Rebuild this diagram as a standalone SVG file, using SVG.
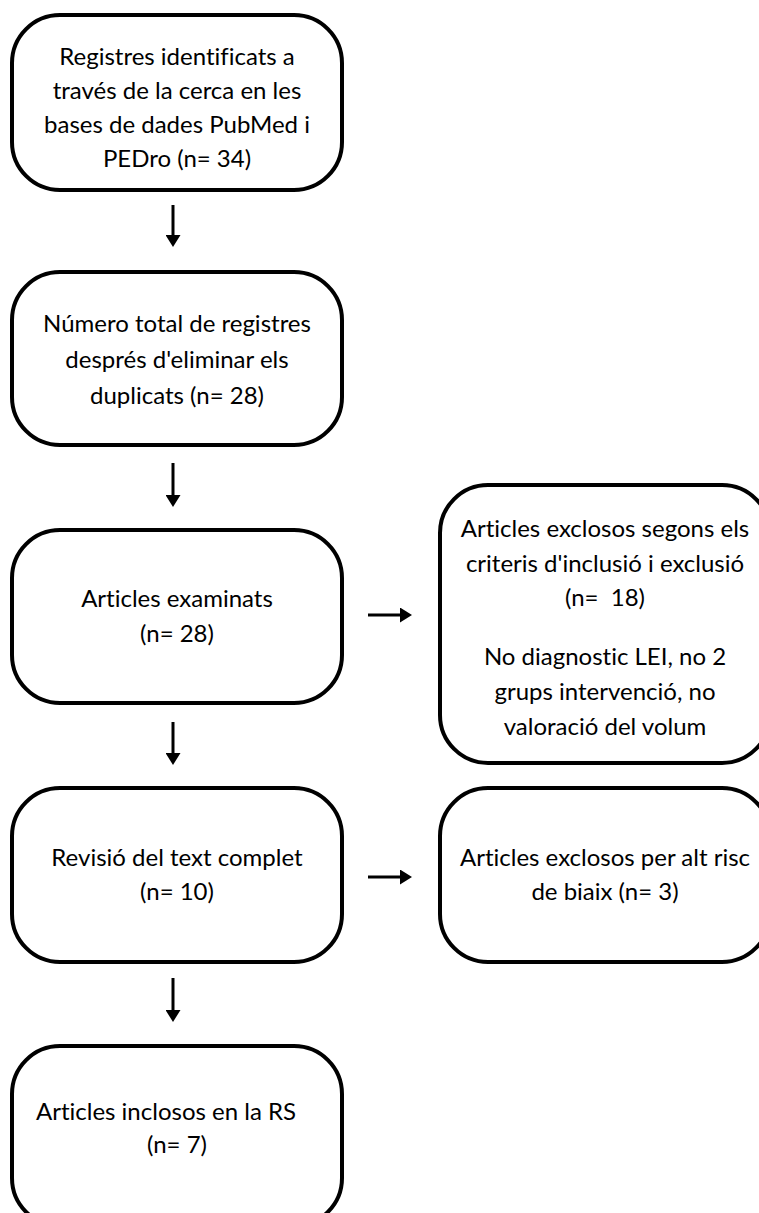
<svg xmlns="http://www.w3.org/2000/svg" width="759" height="1213" viewBox="0 0 759 1213">
<style>
.box{fill:#fff;stroke:#000;stroke-width:4}
.t{font-family:Lato,"Open Sans","Liberation Sans",sans-serif;font-size:24px;fill:#000;text-anchor:middle;font-variant-ligatures:none;font-feature-settings:"liga" 0,"dlig" 0;white-space:pre}
.c{stroke:#000;stroke-width:3;fill:none;marker-end:url(#ah)}
</style>
<defs>
<marker id="ah" markerUnits="userSpaceOnUse" markerWidth="12" markerHeight="15" refX="2" refY="7.5" orient="auto">
<path d="M0,0 L12,7.5 L0,15 z" fill="#000"/>
</marker>
</defs>
<rect width="759" height="1213" fill="#fff"/>
<g id="n1">
<rect class="box" x="12" y="15" width="330" height="175" rx="48"/>
<text class="t" x="177" y="65">Registres identificats a</text>
<text class="t" x="177" y="99">través de la cerca en les</text>
<text class="t" x="177" y="133">bases de dades PubMed i</text>
<text class="t" x="177" y="167">PEDro (n= 34)</text>
</g>
<g id="n2">
<rect class="box" x="12" y="272" width="330" height="173" rx="48"/>
<text class="t" x="177" y="332">Número total de registres</text>
<text class="t" x="177" y="368">després d'eliminar els</text>
<text class="t" x="177" y="404">duplicats (n= 28)</text>
</g>
<g id="n3">
<rect class="box" x="12" y="530" width="330" height="173" rx="48"/>
<text class="t" x="177" y="607">Articles examinats</text>
<text class="t" x="177" y="642">(n= 28)</text>
</g>
<g id="n4">
<rect class="box" x="440" y="485" width="330" height="278" rx="48"/>
<text class="t" x="605" y="537">Articles exclosos segons els</text>
<text class="t" x="605" y="572">criteris d'inclusió i exclusió</text>
<text class="t" x="605" y="606" xml:space="preserve">(n=  18)</text>
<text class="t" x="605" y="665">No diagnostic LEI, no 2</text>
<text class="t" x="605" y="700">grups intervenció, no</text>
<text class="t" x="605" y="735">valoració del volum</text>
</g>
<g id="n5">
<rect class="box" x="12" y="788" width="330" height="174" rx="48"/>
<text class="t" x="177" y="866">Revisió del text complet</text>
<text class="t" x="177" y="900">(n= 10)</text>
</g>
<g id="n6">
<rect class="box" x="440" y="788" width="330" height="174" rx="48"/>
<text class="t" x="605" y="866">Articles exclosos per alt risc</text>
<text class="t" x="605" y="900">de biaix (n= 3)</text>
</g>
<g id="n7">
<rect class="box" x="12" y="1046" width="330" height="180" rx="48"/>
<text class="t" x="166" y="1120">Articles inclosos en la RS</text>
<text class="t" x="177" y="1153">(n= 7)</text>
</g>
<g id="connectors">
<line class="c" x1="173" y1="205" x2="173" y2="237"/>
<line class="c" x1="173" y1="463" x2="173" y2="497"/>
<line class="c" x1="173" y1="722" x2="173" y2="755"/>
<line class="c" x1="173" y1="978" x2="173" y2="1012"/>
<line class="c" x1="368" y1="615" x2="402" y2="615"/>
<line class="c" x1="368" y1="877" x2="402" y2="877"/>
</g>
</svg>
